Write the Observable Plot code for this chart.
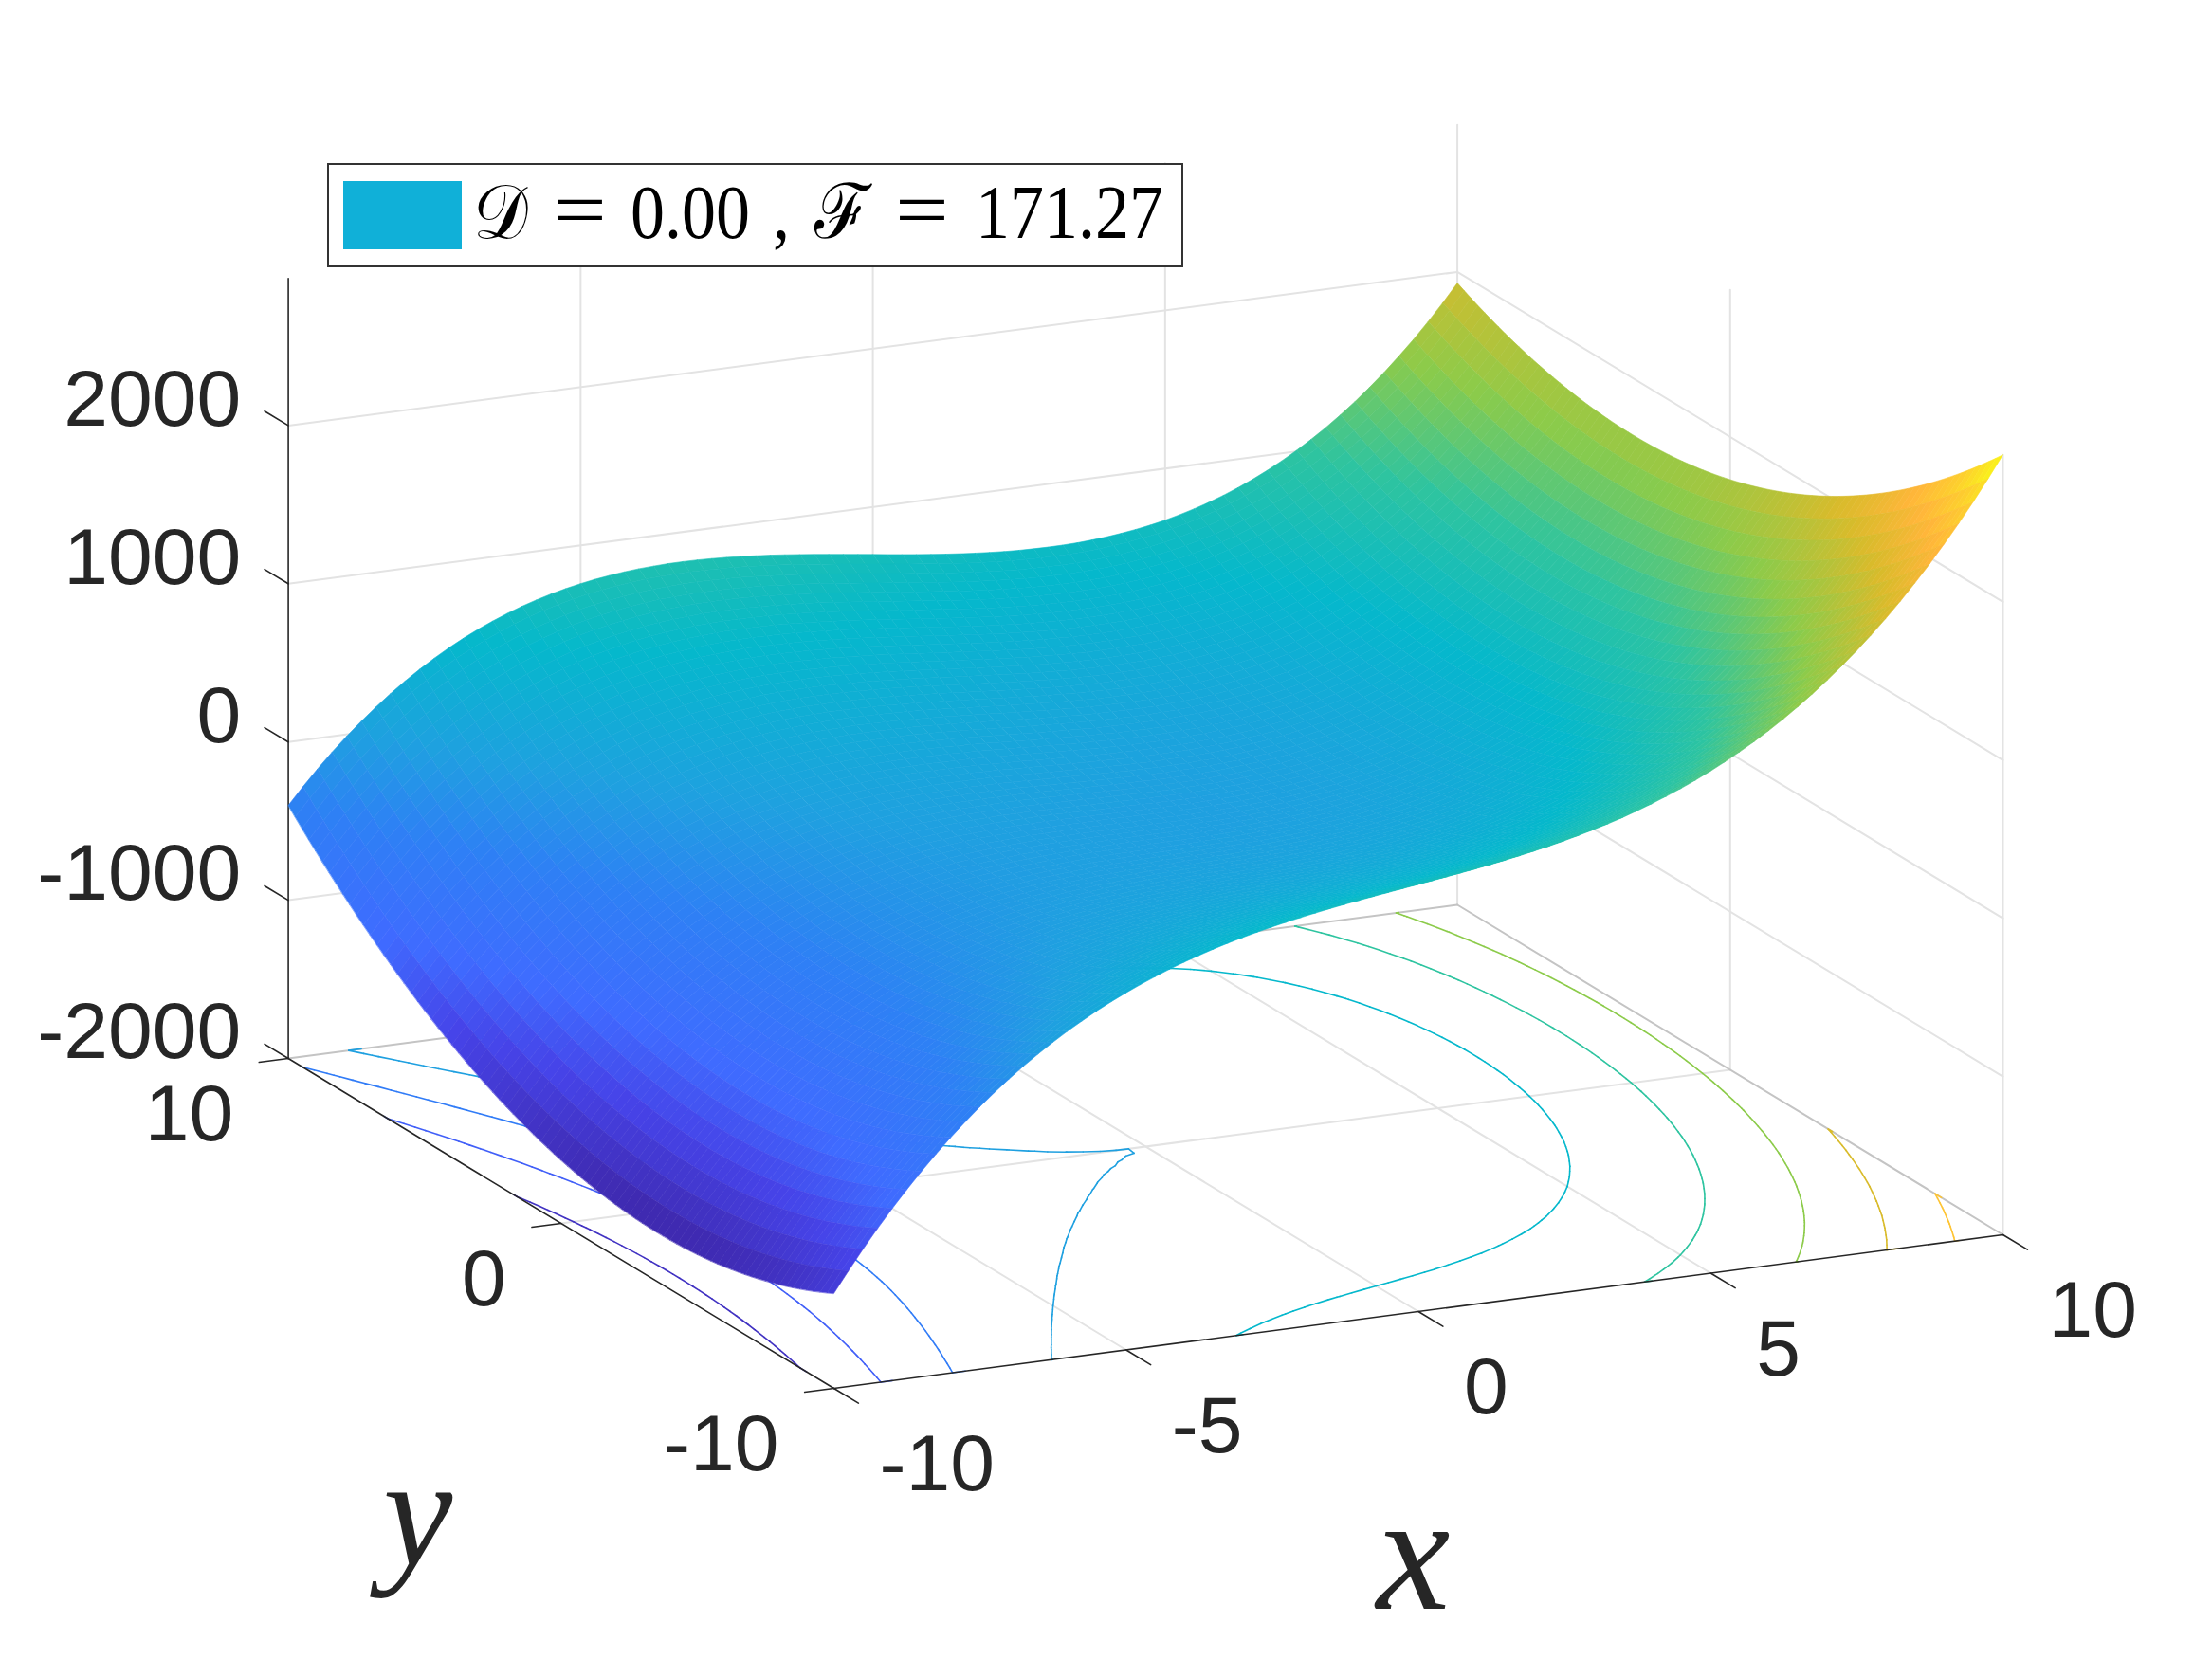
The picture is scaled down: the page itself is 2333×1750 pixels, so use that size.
<!DOCTYPE html>
<html><head><meta charset="utf-8">
<script src="https://cdn.jsdelivr.net/npm/d3@7"></script>
<script src="https://cdn.jsdelivr.net/npm/@observablehq/plot@0.6"></script>
<style>
html,body{margin:0;background:#fff}
#wrap{position:relative;width:2333px;height:1750px}
#legend{position:absolute;left:345px;top:172px;width:899px;height:106px;border:2px solid #333;background:#fff;box-sizing:content-box}
#swatch{position:absolute;left:15px;top:17px;width:125px;height:72px;background:#10b0d8}
#legend span{position:absolute;top:0;height:100px;line-height:100px;font-family:"Liberation Serif","DejaVu Serif",serif;font-size:72px;color:#000;white-space:pre;transform:scaleY(1.12);transform-origin:0 50%}
#legend span.eq{font-size:84px;transform:scaleX(1.2);top:-2px}
</style></head><body><div id="wrap"><div id="chart"></div>
<div id="legend"><div id="swatch"></div><span style="left:152px">𝒟</span><span class="eq" style="left:236px">=</span><span style="left:318px">0.00</span><span style="left:468px">,</span><span style="left:512px">ℱ</span><span class="eq" style="left:597px">=</span><span style="left:682px">171.27</span></div></div>
<script>
// Values
const xGrid = d3.range(81).map(i => -10 + i * 0.25);
const yGrid = d3.range(81).map(j => -10 + j * 0.25);
const heightAlongX = [-1600,-1482,-1369,-1262,-1161,-1066,-976,-891,-811,-736,-666,-600,-539,-482,-430,-381,-336,-295,-257,-223,-192,-164,-139,-116,-96,-79,-63,-50,-39,-30,-22,-16,-11,-7,-4,-2,-1,-0.33,-0.05,0.01,0,0.07,0.37,1,2,4,7,11,16,22,30,40,51,64,79,97,117,140,165,193,224,259,297,338,383,432,485,542,603,669,739,814,894,979,1070,1165,1267,1373,1486,1605,1730];
const heightAlongY = [700,665.4,631.8,598.9,567,535.9,505.8,476.4,448,420.4,393.8,367.9,343,318.9,295.8,273.4,252,231.4,211.8,192.9,175,157.9,141.8,126.4,112,98.4,85.8,73.9,63,52.9,43.8,35.4,28,21.4,15.8,10.9,7,3.9,1.8,0.4,0,0.4,1.8,3.9,7,10.9,15.8,21.4,28,35.4,43.8,52.9,63,73.9,85.8,98.4,112,126.4,141.8,157.9,175,192.9,211.8,231.4,252,273.4,295.8,318.9,343,367.9,393.8,420.4,448,476.4,505.8,535.9,567,598.9,631.8,665.4,700];
const twist = -5;
const contourLevels = [-1500,-1000,-500,0,500,1000,1500,2000,2500];
const xTicks = [-10,-5,0,5,10];
const yTicks = [-10,0,10];
const zTicks = [-2000,-1000,0,1000,2000];
const zFloor = -2000, zTop = 2930;

// Fixed orthographic view of the box
const project = (x,y,z) => ({
  sx: 879 + 61.65*(x+10) - 28.77*(y+10),
  sy: 1464 - 8.1*(x+10) - 17.4*(y+10) - (z-zFloor)*0.1669
});
const zAt = (i,j) => heightAlongX[i] + heightAlongY[j] + twist*xGrid[i]*yGrid[j];

// Surface cells, far to near
const cells = [];
let cid = 0;
for (let j = yGrid.length-2; j >= 0; j--) for (let i = xGrid.length-2; i >= 0; i--) {
  const corners = [[i,j],[i+1,j],[i+1,j+1],[i,j+1]];
  const v = d3.mean(corners, ([a,b]) => zAt(a,b));
  for (const [a,b] of corners) cells.push({...project(xGrid[a],yGrid[b],zAt(a,b)), cell:cid, v});
  cid++;
}

// Contours on the floor
const nx = xGrid.length, ny = yGrid.length;
const gridValues = new Float64Array(nx*ny);
for (let j=0;j<ny;j++) for (let i=0;i<nx;i++) gridValues[i+j*nx] = zAt(i,j);
const contourRows = [];
let seg = 0;
for (const c of d3.contours().size([nx,ny]).thresholds(contourLevels)(gridValues)) {
  for (const poly of c.coordinates) for (const ring of poly) {
    const onEdge = p => p[0]<=0||p[0]>=nx||p[1]<=0||p[1]>=ny;
    for (let k=1;k<ring.length;k++) {
      const a=ring[k-1], b=ring[k];
      if (onEdge(a)&&onEdge(b)) continue;
      for (const p of [a,b]) {
        const fx=Math.max(0,Math.min(nx-1,p[0]-0.5)), fy=Math.max(0,Math.min(ny-1,p[1]-0.5));
        contourRows.push({...project(-10+fx*0.25,-10+fy*0.25,zFloor), seg, level:c.value});
      }
      seg++;
    }
  }
}

// Box lines
const segment = (rows,id,a,b) => { rows.push({...project(...a),id}); rows.push({...project(...b),id}); };
const grid=[], edge=[], axis=[];
let n=0;
for (const x of [-5,0,5]) {
  segment(grid,n++,[x,-10,zFloor],[x,10,zFloor]);
  segment(grid,n++,[x,10,zFloor],[x,10,zTop]);
}
segment(grid,n++,[-10,0,zFloor],[10,0,zFloor]);
segment(grid,n++,[10,0,zFloor],[10,0,zTop]);
segment(grid,n++,[10,10,zFloor],[10,10,zTop]);
segment(grid,n++,[10,-10,zFloor],[10,-10,zTop]);
for (const z of zTicks.slice(1)) {
  segment(grid,n++,[-10,10,z],[10,10,z]);
  segment(grid,n++,[10,10,z],[10,-10,z]);
}
segment(edge,n++,[-10,10,zFloor],[10,10,zFloor]);
segment(edge,n++,[10,10,zFloor],[10,-10,zFloor]);
segment(axis,n++,[-10,-10,zFloor],[10,-10,zFloor]);
segment(axis,n++,[-10,-10,zFloor],[-10,10,zFloor]);
segment(axis,n++,[-10,10,zFloor],[-10,10,zTop]);
for (const x of xTicks) segment(axis,n++,[x,-10,zFloor],[x,-10.9,zFloor]);
for (const y of yTicks) segment(axis,n++,[-10,y,zFloor],[-10.5,y,zFloor]);
for (const z of zTicks) segment(axis,n++,[-10,10,z],[-10,10.87,z]);

const labelFont = {fontFamily:"Liberation Sans", fontSize:84, fill:"#262626"};
const xLabels = xTicks.map(t => ({...project(t,-10,zFloor),t}));
const yLabels = yTicks.map(t => ({...project(-10,t,zFloor),t}));
const zLabels = zTicks.map(t => ({...project(-10,10,t),t}));
const colorStops = [-1690,-1230,-900,-400,0,500,1000,1500,2000,2350,2620,2930];
const colorRange = ["#3e26a8","#4643e8","#3f6bff","#2e80f5","#1fa0e0","#05b8cc","#2ec4a0","#8ccb4a","#d9bb2b","#ffb63a","#fdd02e","#f9fb15"];

const lineOpts = {x:"sx",y:"sy",z:"id"};
const chart = Plot.plot({
  width:2333, height:1750, margin:0,
  x:{type:"linear",domain:[0,2333],range:[0,2333],axis:null},
  y:{type:"linear",domain:[0,1750],range:[0,1750],axis:null},
  color:{type:"linear",domain:colorStops,range:colorRange},
  marks:[
    Plot.line(grid,{...lineOpts,stroke:"#e3e3e3",strokeWidth:2}),
    Plot.line(edge,{...lineOpts,stroke:"#c4c4c4",strokeWidth:2}),
    Plot.line(contourRows,{x:"sx",y:"sy",z:"seg",stroke:"level",strokeWidth:1.6}),
    Plot.line(axis,{...lineOpts,stroke:"#262626",strokeWidth:1.6}),
    Plot.line(cells,{x:"sx",y:"sy",z:"cell",fill:"v",stroke:"v",strokeWidth:0.6,curve:"linear-closed"}),
    Plot.text(xLabels,{x:"sx",y:"sy",text:d=>String(d.t),dx:48,dy:81,textAnchor:"start",...labelFont}),
    Plot.text(yLabels,{x:"sx",y:"sy",text:d=>String(d.t),dx:-58,dy:60,textAnchor:"end",...labelFont}),
    Plot.text(zLabels,{x:"sx",y:"sy",text:d=>String(d.t),dx:-50,dy:-27,textAnchor:"end",...labelFont}),
    Plot.text([{sx:1490,sy:1640,t:"x",s:175},{sx:440,sy:1598,t:"y",s:165}],{x:"sx",y:"sy",text:"t",fontSize:d=>d.s,fontFamily:"Liberation Serif",fontStyle:"italic",fill:"#262626"})
  ]
});
document.getElementById("chart").appendChild(chart);
</script></body></html>
